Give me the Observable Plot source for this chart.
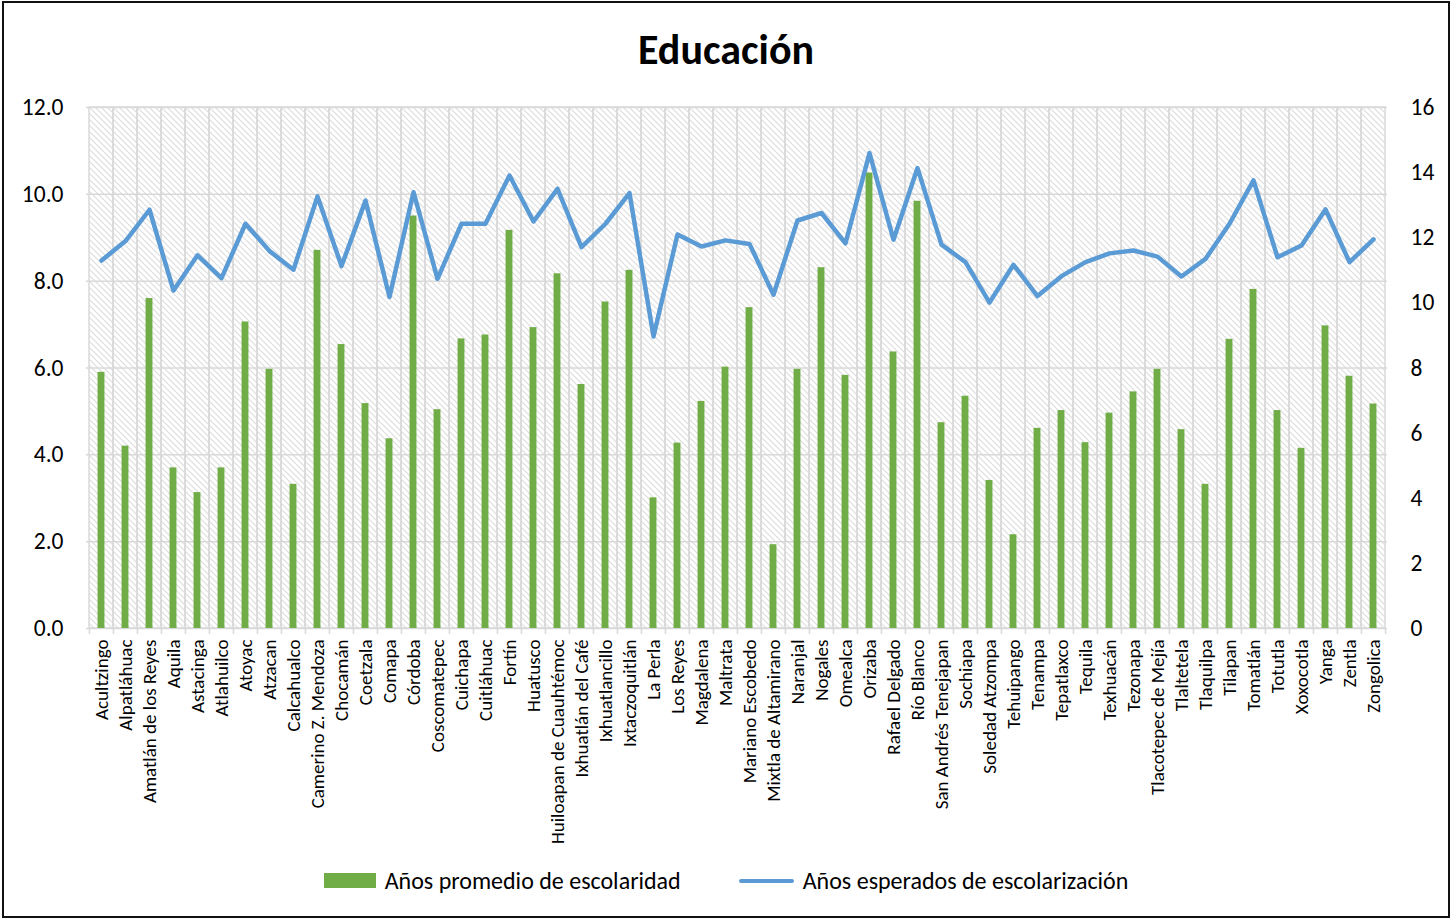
<!DOCTYPE html>
<html><head><meta charset="utf-8">
<script src="https://cdn.jsdelivr.net/npm/d3@7"></script>
<script src="https://cdn.jsdelivr.net/npm/@observablehq/plot@0.6"></script>
<style>
body{margin:0;background:#fff;font-family:Carlito,Calibri,Lato,sans-serif;}
#frame{position:absolute;left:2px;top:1px;width:1448px;height:917px;border:2px solid #111;box-sizing:border-box;}
#title{position:absolute;top:24px;left:0;width:1452px;text-align:center;font-weight:bold;font-size:42px;color:#000;}
#chart{position:absolute;left:0;top:0;}
#legend{position:absolute;top:866px;left:0;width:1452px;display:flex;justify-content:center;align-items:center;font-size:24px;color:#000;}
.sw{display:inline-block;margin-right:9px;}
.item{display:flex;align-items:center;margin:0 29px;}
</style></head>
<body>
<div id="frame"></div>
<div id="title">Educación</div>
<div id="chart"></div>
<div id="legend">
  <div class="item"><span class="sw" style="width:52px;height:15px;background:#70AD47"></span>Años promedio de escolaridad</div>
  <div class="item"><span class="sw" style="width:55px;height:4px;border-radius:2px;background:#5B9BD5"></span>Años esperados de escolarización</div>
</div>
<script>
const municipios = ["Acultzingo","Alpatláhuac","Amatlán de los Reyes","Aquila","Astacinga","Atlahuilco","Atoyac","Atzacan","Calcahualco","Camerino Z. Mendoza","Chocamán","Coetzala","Comapa","Córdoba","Coscomatepec","Cuichapa","Cuitláhuac","Fortín","Huatusco","Huiloapan de Cuauhtémoc","Ixhuatlán del Café","Ixhuatlancillo","Ixtaczoquitlán","La Perla","Los Reyes","Magdalena","Maltrata","Mariano Escobedo","Mixtla de Altamirano","Naranjal","Nogales","Omealca","Orizaba","Rafael Delgado","Río Blanco","San Andrés Tenejapan","Sochiapa","Soledad Atzompa","Tehuipango","Tenampa","Tepatlaxco","Tequila","Texhuacán","Tezonapa","Tlacotepec de Mejía","Tlaltetela","Tlaquilpa","Tilapan","Tomatlán","Totutla","Xoxocotla","Yanga","Zentla","Zongolica"];
const promedio = [5.9,4.2,7.6,3.7,3.13,3.7,7.06,5.97,3.32,8.71,6.54,5.18,4.37,9.5,5.04,6.67,6.76,9.17,6.93,8.17,5.62,7.52,8.25,3.01,4.27,5.23,6.02,7.39,1.93,5.97,8.31,5.83,10.49,6.37,9.84,4.74,5.35,3.41,2.16,4.61,5.02,4.28,4.96,5.45,5.97,4.58,3.32,6.66,7.81,5.02,4.15,6.97,5.81,5.17];
const esperados = [11.3,11.9,12.86,10.38,11.46,10.76,12.43,11.59,11.02,13.27,11.13,13.14,10.18,13.4,10.74,12.43,12.43,13.91,12.5,13.5,11.71,12.43,13.37,8.97,12.1,11.73,11.92,11.81,10.25,12.53,12.76,11.83,14.6,11.94,14.14,11.79,11.25,10.01,11.17,10.21,10.82,11.25,11.52,11.61,11.42,10.81,11.35,12.43,13.76,11.4,11.76,12.87,11.25,11.95];
const leftTicks = [0,2,4,6,8,10,12];
const rightTicks = [0,2,4,6,8,10,12,14,16];

const ratio = 12/16;
const data = municipios.map((m,i)=>({m, p: promedio[i], e: esperados[i]}));
const W=1452, H=850, mL=86, mR=65, mT=107, mB=H-628;
const bw = (W-mL-mR)/municipios.length;
const font = "Carlito, Calibri, Lato, sans-serif";
const chart = Plot.plot({
  width:W, height:H, marginLeft:mL, marginRight:mR, marginTop:mT, marginBottom:mB,
  style:{fontFamily:font, fontSize:"19px", color:"#000", background:"transparent", overflow:"visible"},
  x:{type:"band", domain:municipios, padding:0},
  y:{domain:[0,12]},
  marks:[
    Plot.cell(municipios, {x:d=>d, fill:"url(#hatch)"}),
    Plot.ruleY(leftTicks, {y:d=>d, stroke:"#d9d9d9", strokeWidth:1.5}),
    Plot.cell(municipios, {x:d=>d, fill:"none", stroke:"#d9d9d9", strokeWidth:1.5}),
    Plot.ruleX(municipios, {x:d=>d, dx:-bw/2, insetTop:H-mT-mB, insetBottom:-6, stroke:"#d9d9d9", strokeWidth:1.5}),
    Plot.ruleX(municipios.slice(-1), {x:d=>d, dx:bw/2, insetTop:H-mT-mB, insetBottom:-6, stroke:"#d9d9d9", strokeWidth:1.5}),
    Plot.barY(data, {x:"m", y:"p", fill:"#70AD47", insetLeft:(bw-7)/2, insetRight:(bw-7)/2}),
    Plot.line(data, {x:"m", y:d=>d.e*ratio, stroke:"#5B9BD5", strokeWidth:4.5, strokeLinejoin:"round", strokeLinecap:"round"}),
    Plot.axisY({anchor:"left", ticks:leftTicks, tickFormat:d=>d.toFixed(1), tickSize:0, tickPadding:23, fontSize:23.5, label:null}),
    Plot.axisY({anchor:"right", ticks:rightTicks.map(v=>v*ratio), tickFormat:d=>String(Math.round(d/ratio)), tickSize:0, tickPadding:23, fontSize:23.5, label:null}),
    Plot.axisX({tickRotate:-90, tickSize:0, tickPadding:11, fontSize:19, label:null})
  ]
});
const svg = d3.select(chart);
const pat = svg.insert("defs", ":first-child").append("pattern")
  .attr("id","hatch").attr("patternUnits","userSpaceOnUse").attr("width",6).attr("height",6);
pat.append("rect").attr("width",6).attr("height",6).attr("fill","#fff");
pat.append("path").attr("d","M0,0L6,6M-3,3L3,9M3,-3L9,3").attr("stroke","#dcdcdc").attr("stroke-width",1.05);
document.getElementById("chart").appendChild(chart);
</script>
</body></html>
